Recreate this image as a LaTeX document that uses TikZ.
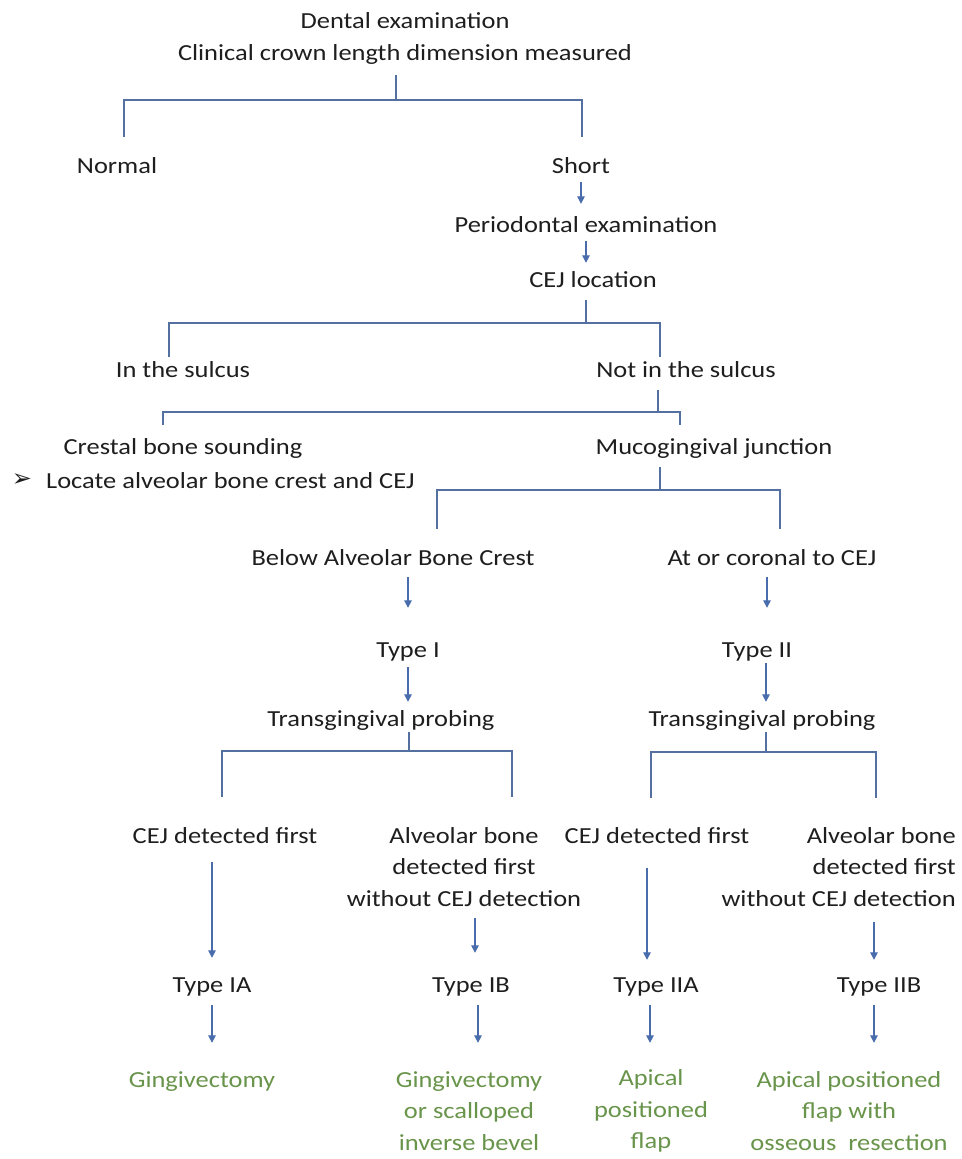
\documentclass[tikz,border=0pt]{standalone}
\usepackage{fontspec}
\setmainfont{Carlito}[FakeStretch=1.15]
\newfontfamily\dingfont{DejaVu Sans}
\usetikzlibrary{arrows.meta}
\definecolor{txtc}{RGB}{30,30,30}
\definecolor{grn}{RGB}{105,148,75}
\definecolor{arc}{RGB}{72,108,172}
\definecolor{brc}{RGB}{84,112,160}
\newcommand{\fsz}{\fontsize{23}{31.5}\selectfont}
\tikzset{
  txt/.style={inner sep=0pt, text height=19pt, text depth=2pt, font=\fsz, text=txtc},
  mtxt/.style={inner sep=0pt, font=\fsz, text=txtc, align=center},
  gtxt/.style={mtxt, text=grn},
  br/.style={draw=brc, line width=1.4pt},
  arr/.style={draw=arc, line width=1.3pt, -{Triangle[width=7.5pt,length=7.5pt]}},
}
\begin{document}
\begin{tikzpicture}[x=1pt,y=-1pt]
\useasboundingbox (0,0) rectangle (961,1159);
% nodes
\node[txt] (top1) at (405,20) {Dental examination};
\node[txt] (top2) at (405,52) {Clinical crown length dimension measured};
\node[txt] (normal) at (117,165) {Normal};
\node[txt] (short) at (581,165) {Short};
\node[txt] (perio) at (586,224) {Periodontal examination};
\node[txt] (cejloc) at (593,279) {CEJ location};
\node[txt] (insulc) at (183,369) {In the sulcus};
\node[txt] (notsulc) at (686,369) {Not in the sulcus};
\node[txt] (crestal) at (183,446) {Crestal bone sounding};
\node[txt] (muco) at (714,446) {Mucogingival junction};
\node[inner sep=0pt, font=\dingfont\fontsize{24}{26}\selectfont, text=txtc] (bullet) at (22,480) {➢};
\node[txt, anchor=west] (locate) at (46,480) {Locate alveolar bone crest and CEJ};
\node[txt] (below) at (393,557) {Below Alveolar Bone Crest};
\node[txt] (atcor) at (772,557) {At or coronal to CEJ};
\node[txt] (typeI) at (408,649) {Type I};
\node[txt] (typeII) at (757,649) {Type II};
\node[txt] (tpL) at (381,718) {Transgingival probing};
\node[txt] (tpR) at (762,718) {Transgingival probing};
\node[txt] (cejL) at (225,835) {CEJ detected first};
\node[mtxt] (albL) at (464,867) {Alveolar bone\\detected first\\without CEJ detection};
\node[txt] (cejR) at (657,835) {CEJ detected first};
\node[mtxt, align=right, anchor=east] (albR) at (956,867) {Alveolar bone\\detected first\\without CEJ detection};
\node[txt] (tIA) at (212,984) {Type IA};
\node[txt] (tIB) at (471,984) {Type IB};
\node[txt] (tIIA) at (656,984) {Type IIA};
\node[txt] (tIIB) at (879,984) {Type IIB};
\node[txt, text=grn] (g1) at (202,1079) {Gingivectomy};
\node[gtxt] (g2) at (469,1111) {Gingivectomy\\or scalloped\\inverse bevel};
\node[gtxt] (g3) at (651,1111) {Apical\\positioned\\flap};
\node[gtxt] (g4) at (849,1111) {Apical positioned\\flap with\\osseous\ \ resection};
% bracket corners
\coordinate (b1m) at (396,100); \coordinate (b1L) at (124,100); \coordinate (b1R) at (582,100);
\coordinate (b2m) at (586,323); \coordinate (b2L) at (169,323); \coordinate (b2R) at (660,323);
\coordinate (b3m) at (658,412); \coordinate (b3L) at (163,412); \coordinate (b3R) at (680,412);
\coordinate (b4m) at (660,490); \coordinate (b4L) at (437,490); \coordinate (b4R) at (780,490);
\coordinate (b5m) at (409,751); \coordinate (b5L) at (222,751); \coordinate (b5R) at (512,751);
\coordinate (b6m) at (766,752); \coordinate (b6L) at (651,752); \coordinate (b6R) at (876,752);
% brackets
\draw[br, shorten <=12.5pt] (top2.south -| b1m) -- (b1m);
\draw[br, shorten <=17.5pt, shorten >=17.5pt] (normal.north -| b1L) -- (b1L) -- (b1R) -- (short.north -| b1R);
\draw[br, shorten <=10.5pt] (cejloc.south -| b2m) -- (b2m);
\draw[br, shorten <=1.5pt, shorten >=1.5pt] (insulc.north -| b2L) -- (b2L) -- (b2R) -- (notsulc.north -| b2R);
\draw[br, shorten <=10.5pt] (notsulc.south -| b3m) -- (b3m);
\draw[br, shorten <=10.5pt, shorten >=10.5pt] (crestal.north -| b3L) -- (b3L) -- (b3R) -- (muco.north -| b3R);
\draw[br, shorten <=10.5pt] (muco.south -| b4m) -- (b4m);
\draw[br, shorten <=17.5pt, shorten >=17.5pt] (below.north -| b4L) -- (b4L) -- (b4R) -- (atcor.north -| b4R);
\draw[br, shorten <=3.5pt] (tpL.south -| b5m) -- (b5m);
\draw[br, shorten <=27.5pt, shorten >=27.5pt] (cejL.north -| b5L) -- (b5L) -- (b5R) -- (cejL.north -| b5R);
\draw[br, shorten <=3.5pt] (tpR.south -| b6m) -- (b6m);
\draw[br, shorten <=26.5pt, shorten >=26.5pt] (cejR.north -| b6L) -- (b6L) -- (b6R) -- (cejR.north -| b6R);
% arrows
\draw[arr, shorten <=6.5pt, shorten >=9.5pt] (short.south) -- (short.south |- perio.north);
\draw[arr, shorten <=6.5pt, shorten >=5.5pt] (perio.south) -- (perio.south |- cejloc.north);
\draw[arr, shorten <=9.5pt, shorten >=30.5pt] (typeI.north |- below.south) -- (typeI.north);
\draw[arr, shorten <=9.5pt, shorten >=30.5pt] ([xshift=10pt]typeII.north |- atcor.south) -- ([xshift=10pt]typeII.north);
\draw[arr, shorten <=7.5pt, shorten >=5.5pt] (typeI.south) -- (typeI.south |- tpL.north);
\draw[arr, shorten <=3.5pt, shorten >=5.5pt] ([xshift=9pt]typeII.south) -- ([xshift=9pt]typeII.south |- tpR.north);
\draw[arr, shorten <=16.5pt, shorten >=15.5pt] (tIA.north |- cejL.south) -- (tIA.north);
\draw[arr, shorten >=20.5pt] ([xshift=4pt,yshift=55.5pt]tIB.north) -- ([xshift=4pt]tIB.north);
\draw[arr, shorten >=13.5pt] ([xshift=-9pt,yshift=105.5pt]tIIA.north) -- ([xshift=-9pt]tIIA.north);
\draw[arr, shorten >=13.5pt] ([xshift=-5pt,yshift=51.5pt]tIIB.north) -- ([xshift=-5pt]tIIB.north);
\draw[arr, shorten <=10.5pt, shorten >=25.5pt] (tIA.south) -- (tIA.south |- g1.north);
\draw[arr, shorten <=10.5pt, shorten >=25.5pt] ([xshift=7pt]tIB.south) -- ([xshift=7pt]tIB.south |- g1.north);
\draw[arr, shorten <=10.5pt, shorten >=25.5pt] ([xshift=-6pt]tIIA.south) -- ([xshift=-6pt]tIIA.south |- g1.north);
\draw[arr, shorten <=10.5pt, shorten >=25.5pt] ([xshift=-5pt]tIIB.south) -- ([xshift=-5pt]tIIB.south |- g1.north);
\end{tikzpicture}
\end{document}
